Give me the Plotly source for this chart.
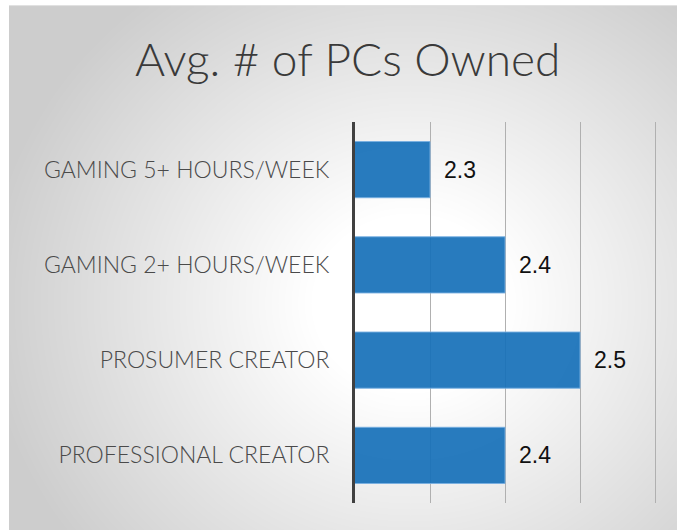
import base64, struct, zlib
import numpy as np
import plotly.graph_objects as go

categories = ["GAMING 5+ HOURS/WEEK", "GAMING 2+ HOURS/WEEK", "PROSUMER CREATOR", "PROFESSIONAL CREATOR"]
values = [2.3, 2.4, 2.5, 2.4]
value_labels = ["2.3", "2.4", "2.5", "2.4"]
grid_ticks = [2.3, 2.4, 2.5, 2.6]
title_text = "Avg. # of PCs Owned"

W, H = 677, 530

# radial gradient background as PNG
def make_png(arr):
    h, w = arr.shape
    raw = b"".join(b"\x00" + arr[i].tobytes() for i in range(h))
    def chunk(t, d):
        c = struct.pack(">I", len(d)) + t + d
        return c + struct.pack(">I", zlib.crc32(t + d) & 0xffffffff)
    ihdr = struct.pack(">IIBBBBB", w, h, 8, 0, 0, 0, 0)
    return b"\x89PNG\r\n\x1a\n" + chunk(b"IHDR", ihdr) + chunk(b"IDAT", zlib.compress(raw, 9)) + chunk(b"IEND", b"")

gw, gh = 668, 525
yy, xx = np.mgrid[0:gh, 0:gw]
cx, cy = 410 - 9, 300 - 5
r = np.sqrt(((xx - cx) / 1.1) ** 2 + (yy - cy) ** 2)
t = np.clip((r - 90) / 300, 0, 1)
g = (255 - 50 * t).astype(np.uint8)
g[0, :] = 225
src = "data:image/png;base64," + base64.b64encode(make_png(g)).decode()

fig = go.Figure()
fig.add_trace(go.Bar(
    x=values, y=categories, orientation="h",
    marker=dict(color="rgba(22,112,185,0.92)", line=dict(color="rgba(120,175,225,0.9)", width=1)),
    hoverinfo="skip",
))

for v, c, lab in zip(values, categories, value_labels):
    fig.add_annotation(x=v, y=c, text=lab, xref="x", yref="y", xanchor="left", yanchor="middle",
                       xshift=12, showarrow=False,
                       font=dict(family="Liberation Sans, Arial", size=23, color="#111111"))

fig.add_annotation(x=347.5 / W, y=1 - 59 / H, xref="paper", yref="paper", text=title_text,
                   showarrow=False, xanchor="center", yanchor="middle",
                   font=dict(family="Lato", size=46, color="#3a3a3a", weight=300))

fig.add_layout_image(source=src, xref="paper", yref="paper", x=9 / W, y=1 - 5 / H,
                     sizex=gw / W, sizey=gh / H + 0.01, xanchor="left", yanchor="top",
                     sizing="stretch", layer="below")

fig.update_layout(
    width=W, height=H,
    margin=dict(l=0, r=0, t=0, b=0),
    paper_bgcolor="white", plot_bgcolor="rgba(0,0,0,0)",
    bargap=0.41, showlegend=False,
    xaxis=dict(domain=[355 / W, 656.5 / W], range=[2.2, 2.602], tickvals=grid_ticks,
               showticklabels=False, showgrid=True, gridcolor="#b0b0b0", gridwidth=1,
               zeroline=False, showline=False, fixedrange=True),
    yaxis=dict(domain=[1 - 503 / H, 1 - 122 / H], categoryorder="array", categoryarray=categories,
               autorange="reversed", showline=True, linecolor="#404040", linewidth=3,
               showgrid=False, ticks="", ticklabelstandoff=18, fixedrange=True,
               tickfont=dict(family="Lato", size=23, color="#4a4a4a", weight=300)),
)

fig.write_html("out.html", config={"displayModeBar": False, "staticPlot": True},
               post_script="document.body.style.margin='0';document.body.style.overflow='hidden';")
